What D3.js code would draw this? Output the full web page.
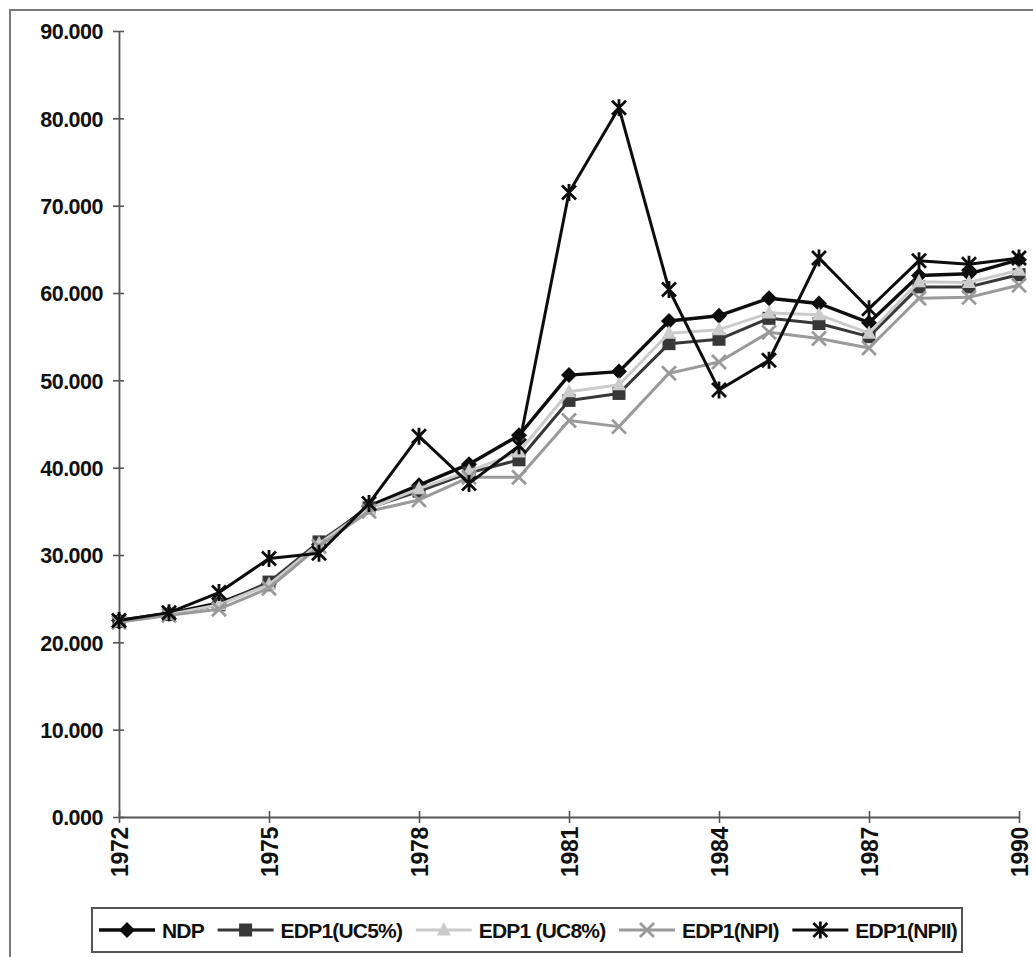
<!DOCTYPE html>
<html>
<head>
<meta charset="utf-8">
<script src="https://cdn.jsdelivr.net/npm/d3@7"></script>
<style>
  html, body { margin: 0; padding: 0; background: #fff; }
  svg { display: block; }
  text { font-family: "Liberation Sans", Arial, sans-serif; font-weight: bold; fill: #111; }
</style>
</head>
<body>
<svg id="chart" width="1033" height="957"></svg>
<script>
// Years on the horizontal axis
const years = [1972, 1973, 1974, 1975, 1976, 1977, 1978, 1979, 1980, 1981,
               1982, 1983, 1984, 1985, 1986, 1987, 1988, 1989, 1990];

// Series values
const ndp     = [22.5, 23.3, 24.5, 26.7, 31.2, 35.6, 38.0, 40.4, 43.7, 50.6,
                 51.0, 56.8, 57.4, 59.4, 58.8, 56.6, 62.0, 62.2, 63.8];
const edpUc5  = [22.4, 23.2, 24.3, 26.9, 31.5, 35.4, 37.3, 39.4, 40.9, 47.7,
                 48.5, 54.2, 54.7, 57.1, 56.5, 55.0, 60.7, 60.7, 62.1];
const edpUc8  = [22.4, 23.2, 24.3, 26.6, 31.3, 35.3, 37.6, 39.6, 41.8, 48.7,
                 49.5, 55.4, 55.8, 57.7, 57.5, 55.4, 61.3, 61.2, 62.6];
const edpNpi  = [22.3, 23.1, 23.8, 26.2, 31.0, 35.0, 36.3, 38.9, 38.9, 45.4,
                 44.7, 50.8, 52.1, 55.5, 54.8, 53.7, 59.4, 59.5, 60.9];
const edpNpii = [22.5, 23.4, 25.7, 29.6, 30.2, 35.9, 43.6, 38.2, 42.5, 71.5,
                 81.2, 60.4, 48.9, 52.3, 64.0, 58.2, 63.7, 63.3, 64.0];

// Axis ticks
const yTicks = [0, 10, 20, 30, 40, 50, 60, 70, 80, 90];
const xTicks = [1972, 1975, 1978, 1981, 1984, 1987, 1990];

const seriesNames = ["NDP", "EDP1(UC5%)", "EDP1 (UC8%)", "EDP1(NPI)", "EDP1(NPII)"];
const seriesValues = [ndp, edpUc5, edpUc8, edpNpi, edpNpii];

const styles = [
  { color: "#0d0d0d", width: 3.4, marker: "diamond" },
  { color: "#383838", width: 3.0, marker: "square" },
  { color: "#cbcbcb", width: 3.0, marker: "triangle" },
  { color: "#9a9a9a", width: 3.0, marker: "cross" },
  { color: "#0d0d0d", width: 3.0, marker: "star" }
];

const svg = d3.select("#chart");

// Frame around the whole figure
svg.append("rect")
  .attr("x", 10).attr("y", 10)
  .attr("width", 1060).attr("height", 990)
  .attr("fill", "none").attr("stroke", "#7a7a7a").attr("stroke-width", 2);

const x = d3.scaleLinear().domain([1972, 1990]).range([119, 1019]);
const y = d3.scaleLinear().domain([0, 90]).range([817, 31]);

// Y axis
const yAxis = svg.append("g").attr("transform", `translate(${x(1972)},0)`)
  .call(d3.axisLeft(y).tickValues(yTicks).tickFormat(d3.format(".3f"))
    .tickSizeInner(6).tickSizeOuter(0).tickPadding(10));
yAxis.select(".domain").attr("stroke", "#555").attr("stroke-width", 1.8);
yAxis.selectAll(".tick line").attr("stroke", "#555").attr("stroke-width", 1.6)
  .attr("x1", 5).attr("x2", -6);
yAxis.selectAll(".tick text").attr("font-size", 21.5).attr("font-family", "Liberation Sans, Arial, sans-serif")
  .attr("font-weight", "bold").attr("fill", "#111").attr("dy", "0.36em").attr("letter-spacing", -0.5);

// X axis
const xAxis = svg.append("g").attr("transform", `translate(0,${y(0)})`)
  .call(d3.axisBottom(x).tickValues(xTicks).tickFormat(d3.format("d"))
    .tickSizeInner(6).tickSizeOuter(0).tickPadding(10));
xAxis.select(".domain").attr("stroke", "#555").attr("stroke-width", 1.8);
xAxis.selectAll(".tick line").attr("stroke", "#555").attr("stroke-width", 1.6)
  .attr("y1", -6).attr("y2", 6);
xAxis.selectAll(".tick text")
  .attr("font-size", 23).attr("font-family", "Liberation Sans, Arial, sans-serif")
  .attr("font-weight", "bold").attr("fill", "#111")
  .attr("transform", "rotate(-90)")
  .attr("text-anchor", "end").attr("x", -10).attr("y", 0).attr("dy", "0.36em")
  .attr("letter-spacing", -0.3);

// Marker shapes
function drawMarker(g, type, cx, cy, color) {
  if (type === "diamond") {
    g.append("path").attr("d", `M${cx},${cy - 8}L${cx + 8},${cy}L${cx},${cy + 8}L${cx - 8},${cy}Z`)
      .attr("fill", color);
  } else if (type === "square") {
    g.append("rect").attr("x", cx - 6.5).attr("y", cy - 6.5).attr("width", 13).attr("height", 13)
      .attr("fill", color);
  } else if (type === "triangle") {
    g.append("path").attr("d", `M${cx},${cy - 8}L${cx + 7},${cy + 5.5}L${cx - 7},${cy + 5.5}Z`)
      .attr("fill", color);
  } else if (type === "cross") {
    g.append("path").attr("d", `M${cx - 7},${cy - 7}L${cx + 7},${cy + 7}M${cx - 7},${cy + 7}L${cx + 7},${cy - 7}`)
      .attr("stroke", color).attr("stroke-width", 2.8).attr("fill", "none");
  } else if (type === "star") {
    g.append("path").attr("d",
      `M${cx - 7},${cy - 7}L${cx + 7},${cy + 7}M${cx - 7},${cy + 7}L${cx + 7},${cy - 7}M${cx},${cy - 8.5}L${cx},${cy + 8.5}`)
      .attr("stroke", color).attr("stroke-width", 2.8).attr("fill", "none");
  }
}

// Series lines and markers
const line = d3.line().x((d, i) => x(years[i])).y(d => y(d));
seriesValues.forEach((vals, s) => {
  const st = styles[s];
  const g = svg.append("g");
  g.append("path").datum(vals).attr("d", line)
    .attr("fill", "none").attr("stroke", st.color).attr("stroke-width", st.width)
    .attr("stroke-linejoin", "round");
  vals.forEach((v, i) => drawMarker(g, st.marker, x(years[i]), y(v), st.color));
});

// Legend
const legBox = { x: 92, y: 908, w: 870, h: 44 };
svg.append("rect").attr("x", legBox.x).attr("y", legBox.y)
  .attr("width", legBox.w).attr("height", legBox.h)
  .attr("fill", "#fff").attr("stroke", "#555").attr("stroke-width", 2);

const legCy = legBox.y + legBox.h / 2;
const legStart = 99, legEnd = 957, symW = 56, symGap = 7;
const items = seriesNames.map((name, s) => {
  const st = styles[s];
  const item = svg.append("g");
  item.append("line").attr("x1", 0).attr("x2", symW).attr("y1", legCy).attr("y2", legCy)
    .attr("stroke", st.color).attr("stroke-width", st.width);
  drawMarker(item, st.marker, symW / 2, legCy, st.color);
  const t = item.append("text").attr("x", symW + symGap).attr("y", legCy).attr("dy", "0.36em")
    .attr("font-size", 21).attr("letter-spacing", -0.8).text(name);
  return { g: item, w: symW + symGap + t.node().getComputedTextLength() };
});
// Spread the entries evenly across the legend box
const used = d3.sum(items, d => d.w);
const gap = (legEnd - legStart - used) / (items.length - 1);
let cursor = legStart;
items.forEach(d => {
  d.g.attr("transform", `translate(${cursor},0)`);
  cursor += d.w + gap;
});
</script>
</body>
</html>
